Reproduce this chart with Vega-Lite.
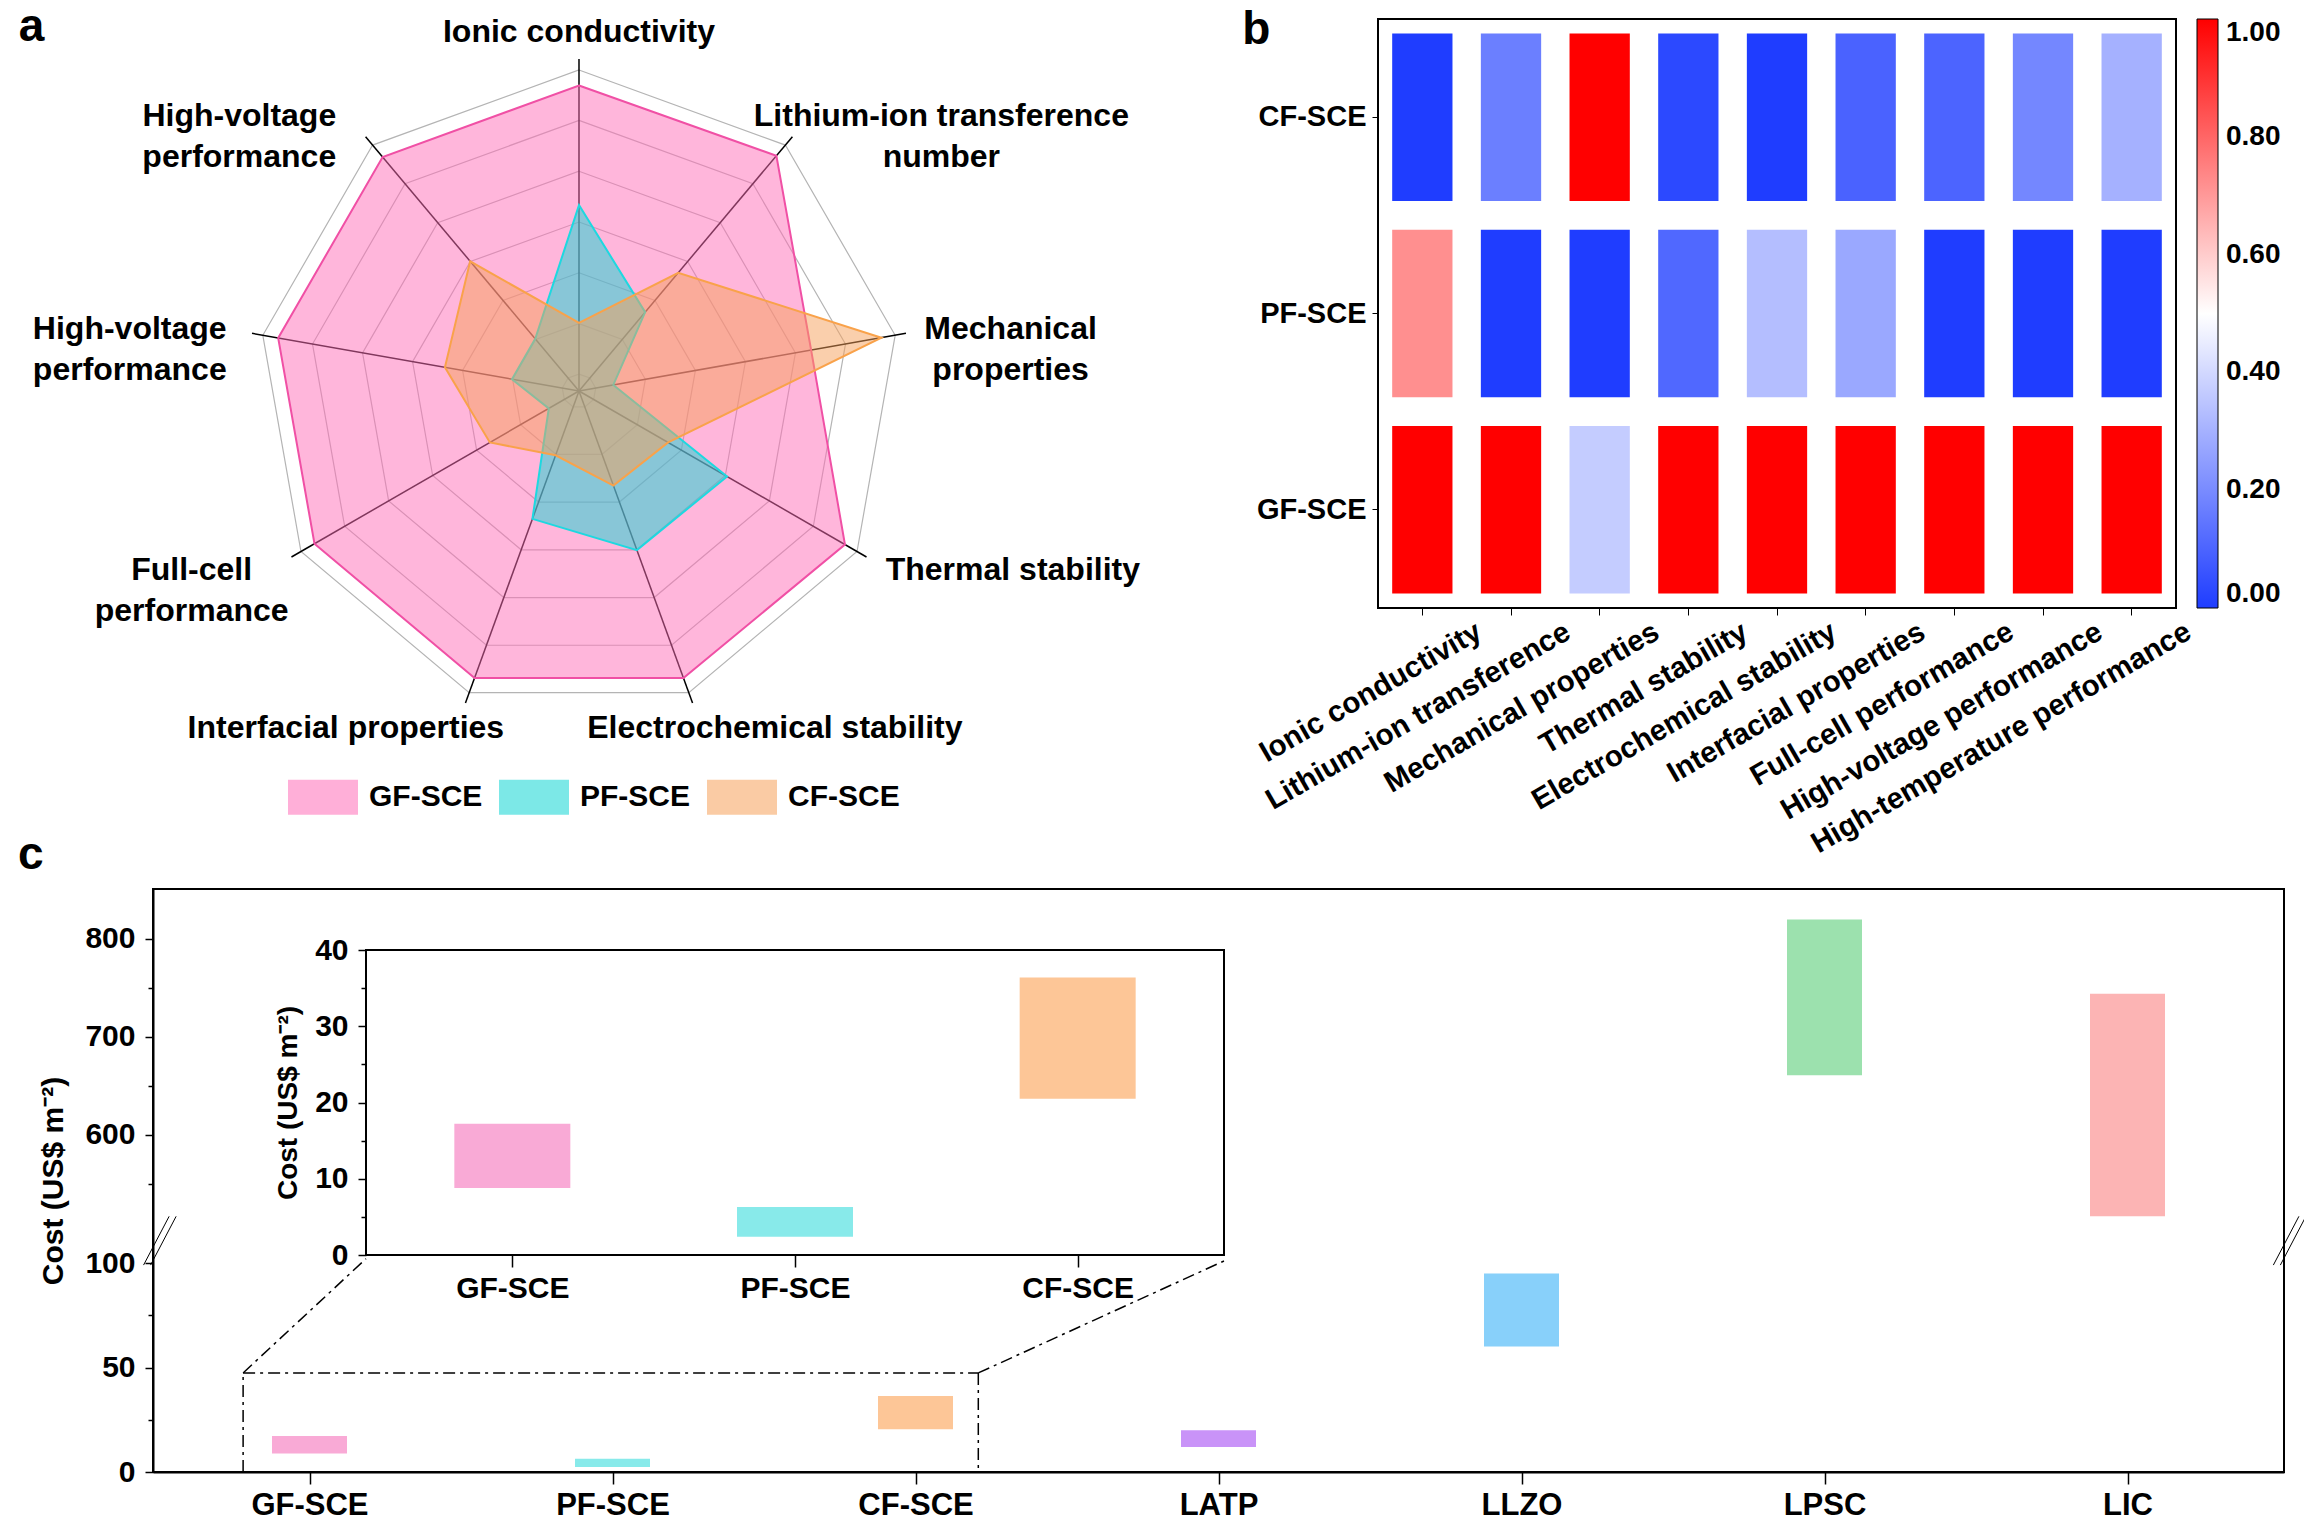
{
"$schema": "https://vega.github.io/schema/vega-lite/v6.json",
"padding": {"left": 16, "top": 4, "right": 0, "bottom": 0},
"background": "white",
"config": {
  "font": "Liberation Sans",
  "view": {"stroke": null},
  "title": {"fontSize": 46, "fontWeight": "bold", "anchor": "start", "frame": "bounds", "color": "black", "offset": 0},
  "axis": {"labelFontWeight": "bold", "labelColor": "black", "titleFontWeight": "bold", "titleColor": "black", "tickColor": "black", "domainColor": "black", "grid": false, "labelFont": "Liberation Sans", "titleFont": "Liberation Sans"},
  "legend": {"labelFontWeight": "bold", "labelColor": "black", "labelFont": "Liberation Sans"}
},
"datasets": {
  "radar": [
    {"series": "GF-SCE", "axis": 0, "value": 0.92},
    {"series": "GF-SCE", "axis": 1, "value": 0.925},
    {"series": "GF-SCE", "axis": 2, "value": 0.71},
    {"series": "GF-SCE", "axis": 3, "value": 0.925},
    {"series": "GF-SCE", "axis": 4, "value": 0.92},
    {"series": "GF-SCE", "axis": 5, "value": 0.92},
    {"series": "GF-SCE", "axis": 6, "value": 0.92},
    {"series": "GF-SCE", "axis": 7, "value": 0.92},
    {"series": "GF-SCE", "axis": 8, "value": 0.92},
    {"series": "PF-SCE", "axis": 0, "value": 0.56},
    {"series": "PF-SCE", "axis": 1, "value": 0.31},
    {"series": "PF-SCE", "axis": 2, "value": 0.105},
    {"series": "PF-SCE", "axis": 3, "value": 0.515},
    {"series": "PF-SCE", "axis": 4, "value": 0.51},
    {"series": "PF-SCE", "axis": 5, "value": 0.41},
    {"series": "PF-SCE", "axis": 6, "value": 0.105},
    {"series": "PF-SCE", "axis": 7, "value": 0.205},
    {"series": "PF-SCE", "axis": 8, "value": 0.205},
    {"series": "CF-SCE", "axis": 0, "value": 0.205},
    {"series": "CF-SCE", "axis": 1, "value": 0.465},
    {"series": "CF-SCE", "axis": 2, "value": 0.925},
    {"series": "CF-SCE", "axis": 3, "value": 0.31},
    {"series": "CF-SCE", "axis": 4, "value": 0.303},
    {"series": "CF-SCE", "axis": 5, "value": 0.206},
    {"series": "CF-SCE", "axis": 6, "value": 0.31},
    {"series": "CF-SCE", "axis": 7, "value": 0.41},
    {"series": "CF-SCE", "axis": 8, "value": 0.51}
  ],
  "axes": [
    {"axis": 0, "label": "Ionic conductivity"},
    {"axis": 1, "label": "Lithium-ion transference\nnumber"},
    {"axis": 2, "label": "Mechanical\nproperties"},
    {"axis": 3, "label": "Thermal stability"},
    {"axis": 4, "label": "Electrochemical stability"},
    {"axis": 5, "label": "Interfacial properties"},
    {"axis": 6, "label": "Full-cell\nperformance"},
    {"axis": 7, "label": "High-voltage\nperformance"},
    {"axis": 8, "label": "High-voltage\nperformance"}
  ],
  "rings": [
    {"r": 0.051, "axes": [0,1,2,3,4,5,6,7,8]},
    {"r": 0.203, "axes": [0,1,2,3,4,5,6,7,8]},
    {"r": 0.356, "axes": [0,1,2,3,4,5,6,7,8]},
    {"r": 0.509, "axes": [0,1,2,3,4,5,6,7,8]},
    {"r": 0.662, "axes": [0,1,2,3,4,5,6,7,8]},
    {"r": 0.815, "axes": [0,1,2,3,4,5,6,7,8]},
    {"r": 0.967, "axes": [0,1,2,3,4,5,6,7,8]}
  ],
  "heat": [
    {"sample": "CF-SCE", "property": "Ionic conductivity", "value": 0.0},
    {"sample": "CF-SCE", "property": "Lithium-ion transference", "value": 0.17},
    {"sample": "CF-SCE", "property": "Mechanical properties", "value": 1.0},
    {"sample": "CF-SCE", "property": "Thermal stability", "value": 0.03},
    {"sample": "CF-SCE", "property": "Electrochemical stability", "value": 0.0},
    {"sample": "CF-SCE", "property": "Interfacial properties", "value": 0.096},
    {"sample": "CF-SCE", "property": "Full-cell performance", "value": 0.1},
    {"sample": "CF-SCE", "property": "High-voltage performance", "value": 0.19},
    {"sample": "CF-SCE", "property": "High-temperature performance", "value": 0.3},
    {"sample": "PF-SCE", "property": "Ionic conductivity", "value": 0.72},
    {"sample": "PF-SCE", "property": "Lithium-ion transference", "value": 0.0},
    {"sample": "PF-SCE", "property": "Mechanical properties", "value": 0.0},
    {"sample": "PF-SCE", "property": "Thermal stability", "value": 0.11},
    {"sample": "PF-SCE", "property": "Electrochemical stability", "value": 0.333},
    {"sample": "PF-SCE", "property": "Interfacial properties", "value": 0.275},
    {"sample": "PF-SCE", "property": "Full-cell performance", "value": 0.0},
    {"sample": "PF-SCE", "property": "High-voltage performance", "value": 0.0},
    {"sample": "PF-SCE", "property": "High-temperature performance", "value": 0.0},
    {"sample": "GF-SCE", "property": "Ionic conductivity", "value": 1.0},
    {"sample": "GF-SCE", "property": "Lithium-ion transference", "value": 1.0},
    {"sample": "GF-SCE", "property": "Mechanical properties", "value": 0.368},
    {"sample": "GF-SCE", "property": "Thermal stability", "value": 1.0},
    {"sample": "GF-SCE", "property": "Electrochemical stability", "value": 1.0},
    {"sample": "GF-SCE", "property": "Interfacial properties", "value": 1.0},
    {"sample": "GF-SCE", "property": "Full-cell performance", "value": 1.0},
    {"sample": "GF-SCE", "property": "High-voltage performance", "value": 1.0},
    {"sample": "GF-SCE", "property": "High-temperature performance", "value": 1.0}
  ],
  "cost": [
    {"material": "GF-SCE", "low": 8.8, "high": 17.2},
    {"material": "PF-SCE", "low": 2.4, "high": 6.3},
    {"material": "CF-SCE", "low": 20.5, "high": 36.4},
    {"material": "LATP", "low": 12, "high": 20},
    {"material": "LLZO", "low": 60, "high": 95},
    {"material": "LPSC", "low": 661, "high": 820},
    {"material": "LIC", "low": 517, "high": 744}
  ],
  "zoom": [
    {"x": 0.296, "y": 0, "x2": 0.296, "y2": 47.4},
    {"x": 0.296, "y": 47.4, "x2": 2.711, "y2": 47.4},
    {"x": 2.711, "y": 47.4, "x2": 2.711, "y2": 0},
    {"x": 0.296, "y": 47.4, "x2": 0.6997, "y2": 157},
    {"x": 2.711, "y": 47.4, "x2": 3.518, "y2": 127}
  ],
  "breaks": [
    {"x": -0.031, "y": 99, "x2": 0.053, "y2": 517},
    {"x": -0.008, "y": 99, "x2": 0.076, "y2": 517},
    {"x": 6.965, "y": 99, "x2": 7.049, "y2": 517},
    {"x": 6.988, "y": 99, "x2": 7.072, "y2": 517}
  ]
},
"vconcat": [
  {
    "hconcat": [
      {
        "width": 999,
        "height": 818,
        "title": {"text": "a", "dy": 39, "dx": -14},
        "layer": [
          {
            "data": {"name": "rings"},
            "transform": [
              {"flatten": ["axes"], "as": ["axis"]},
              {"calculate": "datum.r*sin(datum.axis*PI/4.5)", "as": "px"},
              {"calculate": "datum.r*cos(datum.axis*PI/4.5)", "as": "py"}
            ],
            "mark": {"type": "line", "interpolate": "linear-closed", "stroke": "#B4B4B4", "strokeWidth": 1.2},
            "encoding": {
              "x": {"field": "px", "type": "quantitative", "scale": {"domain": [-1.2831, 1.7259], "nice": false, "zero": false}, "axis": null},
              "y": {"field": "py", "type": "quantitative", "scale": {"domain": [-1.3434, 1.1205], "nice": false, "zero": false}, "axis": null},
              "detail": {"field": "r", "type": "nominal"},
              "order": {"field": "axis", "type": "quantitative"}
            }
          },
          {
            "data": {"name": "axes"},
            "transform": [
              {"calculate": "0", "as": "cx"},
              {"calculate": "0", "as": "cy"},
              {"calculate": "sin(datum.axis*PI/4.5)", "as": "ex"},
              {"calculate": "cos(datum.axis*PI/4.5)", "as": "ey"}
            ],
            "mark": {"type": "rule", "color": "black", "strokeWidth": 1.5},
            "encoding": {
              "x": {"field": "cx", "type": "quantitative", "scale": {"domain": [-1.2831, 1.7259], "nice": false, "zero": false}, "axis": null},
              "y": {"field": "cy", "type": "quantitative", "scale": {"domain": [-1.3434, 1.1205], "nice": false, "zero": false}, "axis": null},
              "x2": {"field": "ex"},
              "y2": {"field": "ey"}
            }
          },
          {
            "data": {"name": "radar"},
            "transform": [
              {"calculate": "datum.value*sin(datum.axis*PI/4.5)", "as": "px"},
              {"calculate": "datum.value*cos(datum.axis*PI/4.5)", "as": "py"}
            ],
            "mark": {"type": "line", "interpolate": "linear-closed", "strokeWidth": 2, "fillOpacity": 0.5},
            "encoding": {
              "x": {"field": "px", "type": "quantitative", "scale": {"domain": [-1.2831, 1.7259], "nice": false, "zero": false}, "axis": null},
              "y": {"field": "py", "type": "quantitative", "scale": {"domain": [-1.3434, 1.1205], "nice": false, "zero": false}, "axis": null},
              "fill": {"field": "series", "type": "nominal",
                "scale": {"domain": ["GF-SCE", "PF-SCE", "CF-SCE"], "range": ["#FF6EB8", "#11D6D4", "#F5A059"]},
                "legend": {"orient": "none", "legendX": 135, "legendY": 743, "direction": "horizontal", "title": null, "symbolType": "M-1,-0.5H1V0.5H-1Z", "symbolSize": 4900, "symbolStrokeWidth": 0, "symbolOpacity": 0.55, "labelFontSize": 30, "labelOffset": 11, "columnPadding": 16}},
              "stroke": {"field": "series", "type": "nominal",
                "scale": {"domain": ["GF-SCE", "PF-SCE", "CF-SCE"], "range": ["#F050A5", "#1ED8E0", "#F9A24A"]},
                "legend": null},
              "order": {"field": "axis", "type": "quantitative"}
            }
          },
          {
            "data": {"name": "axes"},
            "transform": [
              {"calculate": "split(datum.label, '\\n')", "as": "lines"},
              {"calculate": "max(length(datum.lines[0]), length(peek(datum.lines)))", "as": "nmax"},
              {"calculate": "sin(datum.axis*PI/4.5)*(1.05+0.027*datum.nmax) - ((sin(datum.axis*PI/4.5) < -0.1 && abs(cos(datum.axis*PI/4.5)) > 0.7) ? 0.14 : 0)", "as": "lx"},
              {"calculate": "1.08*cos(datum.axis*PI/4.5)", "as": "ly"}
            ],
            "mark": {"type": "text", "fontSize": 32, "fontWeight": "bold", "lineBreak": "\n", "lineHeight": 41, "align": "center", "baseline": "middle", "color": "black"},
            "encoding": {
              "x": {"field": "lx", "type": "quantitative", "scale": {"domain": [-1.2831, 1.7259], "nice": false, "zero": false}, "axis": null},
              "y": {"field": "ly", "type": "quantitative", "scale": {"domain": [-1.3434, 1.1205], "nice": false, "zero": false}, "axis": null},
              "text": {"field": "label", "type": "nominal"}
            }
          }
        ]
      },
      {
        "width": 798,
        "height": 589,
        "title": {"text": "b", "dy": 39, "dx": -12},
        "view": {"stroke": "black", "strokeWidth": 2},
        "data": {"name": "heat"},
        "mark": {"type": "rect"},
        "encoding": {
          "x": {"field": "property", "type": "nominal",
            "sort": ["Ionic conductivity", "Lithium-ion transference", "Mechanical properties", "Thermal stability", "Electrochemical stability", "Interfacial properties", "Full-cell performance", "High-voltage performance", "High-temperature performance"],
            "scale": {"paddingInner": 0.32, "paddingOuter": 0.16},
            "axis": {"title": null, "labelAngle": -30, "labelAlign": "right", "labelBaseline": "top", "labelOffset": 50, "labelPadding": 2, "labelFontSize": 29.5, "tickSize": 7, "domain": false, "labelLimit": 1000}},
          "y": {"field": "sample", "type": "nominal", "sort": ["CF-SCE", "PF-SCE", "GF-SCE"],
            "scale": {"paddingInner": 0.147, "paddingOuter": 0.0735},
            "axis": {"title": null, "labelFontSize": 29, "tickSize": 6, "labelPadding": 6, "domain": false}},
          "color": {"field": "value", "type": "quantitative",
            "scale": {"domain": [0, 0.5, 1], "range": ["#1F3DFF", "#FFFFFF", "#FF0000"], "interpolate": "rgb"},
            "legend": {"title": null, "direction": "vertical", "gradientLength": 589, "gradientThickness": 21, "offset": 0, "padding": 0, "values": [0, 0.2, 0.4, 0.6, 0.8, 1], "format": ".2f", "labelFontSize": 28, "gradientStrokeColor": "black", "gradientStrokeWidth": 1, "labelOffset": 8, "labelOverlap": false}}
        }
      }
    ],
    "spacing": 89
  },
  {
    "width": 2131,
    "height": 583,
    "title": {"text": "c", "offset": 10, "dx": -21},
    "view": {"stroke": "black", "strokeWidth": 2},
    "layer": [
      {
        "data": {"name": "cost"},
        "transform": [{"calculate": "indexof(['GF-SCE','PF-SCE','CF-SCE','LATP','LLZO','LPSC','LIC'], datum.material) + 0.5", "as": "xpos"}],
        "mark": {"type": "bar", "width": 75},
        "encoding": {
          "x": {"field": "xpos", "type": "quantitative", "scale": {"domain": [0, 7], "nice": false, "zero": false},
            "axis": {"orient": "bottom", "values": [0.5, 1.5, 2.5, 3.5, 4.5, 5.5, 6.5], "labelExpr": "['GF-SCE','PF-SCE','CF-SCE','LATP','LLZO','LPSC','LIC'][floor(datum.value)]", "title": null, "tickSize": 12, "tickWidth": 1.5, "labelFontSize": 31, "labelPadding": 6, "domainWidth": 2}},
          "y": {"field": "low", "type": "quantitative", "scale": {"domain": [0, 100, 500, 851], "range": [583, 374, 344, 0], "nice": false, "zero": false},
            "axis": {"orient": "left", "values": [0, 50, 100, 600, 700, 800], "title": "Cost (US$ m⁻²)", "tickSize": 8, "tickWidth": 1.5, "labelFontSize": 30, "labelPadding": 10, "titleFontSize": 30, "titlePadding": 16, "domainWidth": 2}},
          "y2": {"field": "high"},
          "color": {"field": "material", "type": "nominal",
            "scale": {"domain": ["GF-SCE", "PF-SCE", "CF-SCE", "LATP", "LLZO", "LPSC", "LIC"], "range": ["#F9AAD6", "#88EAEA", "#FDC697", "#C993F8", "#88D0FA", "#9CE1AE", "#FCB4B4"]},
            "legend": null}
        }
      },
      {
        "data": {"name": "cost"},
        "transform": [{"calculate": "indexof(['GF-SCE','PF-SCE','CF-SCE','LATP','LLZO','LPSC','LIC'], datum.material) + 0.5", "as": "xpos"}],
        "mark": {"type": "bar", "width": 75, "opacity": 0},
        "encoding": {
          "x": {"field": "xpos", "type": "quantitative", "scale": {"domain": [0, 7], "nice": false, "zero": false}, "axis": null},
          "y": {"field": "low", "type": "quantitative", "scale": {"domain": [0, 100, 500, 851], "range": [583, 374, 344, 0], "nice": false, "zero": false},
            "axis": {"orient": "left", "values": [25, 75, 550, 650, 750], "labels": false, "domain": false, "title": null, "tickSize": 5, "tickWidth": 1.5}},
          "y2": {"field": "high"}
        }
      },
      {
        "data": {"name": "zoom"},
        "mark": {"type": "rule", "color": "black", "strokeWidth": 1.5, "strokeDash": [12, 5, 3, 5]},
        "encoding": {
          "x": {"field": "x", "type": "quantitative", "scale": {"domain": [0, 7], "nice": false, "zero": false}, "axis": null},
          "y": {"field": "y", "type": "quantitative", "scale": {"domain": [0, 100, 500, 851], "range": [583, 374, 344, 0], "nice": false, "zero": false}, "axis": null},
          "x2": {"field": "x2"},
          "y2": {"field": "y2"}
        }
      },
      {
        "data": {"name": "breaks"},
        "mark": {"type": "rule", "color": "black", "strokeWidth": 1},
        "encoding": {
          "x": {"field": "x", "type": "quantitative", "scale": {"domain": [0, 7], "nice": false, "zero": false}, "axis": null},
          "y": {"field": "y", "type": "quantitative", "scale": {"domain": [0, 100, 500, 851], "range": [583, 374, 344, 0], "nice": false, "zero": false}, "axis": null},
          "x2": {"field": "x2"},
          "y2": {"field": "y2"}
        }
      },
      {
        "data": {"name": "cost"},
        "transform": [
          {"filter": "datum.material == 'GF-SCE'"},
          {"calculate": "0", "as": "fx0"},
          {"calculate": "3", "as": "fx1"},
          {"calculate": "0", "as": "fy0"},
          {"calculate": "40", "as": "fy1"}
        ],
        "mark": {"type": "rect", "fill": "white", "stroke": "black", "strokeWidth": 2},
        "encoding": {
          "x": {"field": "fx0", "type": "quantitative", "scale": {"domain": [0, 3], "range": [213, 1071], "nice": false, "zero": false}, "axis": null},
          "x2": {"field": "fx1"},
          "y": {"field": "fy0", "type": "quantitative", "scale": {"domain": [0, 40], "range": [366, 61], "nice": false, "zero": false}, "axis": null},
          "y2": {"field": "fy1"}
        }
      },
      {
        "data": {"name": "cost"},
        "transform": [
          {"filter": "indexof(['GF-SCE','PF-SCE','CF-SCE'], datum.material) >= 0"},
          {"calculate": "indexof(['GF-SCE','PF-SCE','CF-SCE'], datum.material) + 0.5", "as": "xpos"}
        ],
        "mark": {"type": "bar", "width": 116},
        "encoding": {
          "x": {"field": "xpos", "type": "quantitative", "scale": {"domain": [0, 3], "range": [213, 1071], "nice": false, "zero": false},
            "axis": {"orient": "bottom", "offset": -217, "values": [0.5, 1.5, 2.5], "labelExpr": "['GF-SCE','PF-SCE','CF-SCE'][floor(datum.value)]", "title": null, "domain": false, "tickSize": 12, "tickWidth": 1.5, "labelFontSize": 30, "labelPadding": 6}},
          "y": {"field": "low", "type": "quantitative", "scale": {"domain": [0, 40], "range": [366, 61], "nice": false, "zero": false},
            "axis": {"orient": "left", "offset": -213, "values": [0, 10, 20, 30, 40], "title": "Cost (US$ m⁻²)", "domain": false, "tickSize": 8, "tickWidth": 1.5, "labelFontSize": 30, "labelPadding": 10, "titleFontSize": 28, "titlePadding": 12}},
          "y2": {"field": "high"},
          "color": {"field": "material", "type": "nominal",
            "scale": {"domain": ["GF-SCE", "PF-SCE", "CF-SCE", "LATP", "LLZO", "LPSC", "LIC"], "range": ["#F9AAD6", "#88EAEA", "#FDC697", "#C993F8", "#88D0FA", "#9CE1AE", "#FCB4B4"]},
            "legend": null}
        }
      },
      {
        "data": {"name": "cost"},
        "transform": [
          {"filter": "indexof(['GF-SCE','PF-SCE','CF-SCE'], datum.material) >= 0"},
          {"calculate": "indexof(['GF-SCE','PF-SCE','CF-SCE'], datum.material) + 0.5", "as": "xpos"}
        ],
        "mark": {"type": "bar", "width": 116, "opacity": 0},
        "encoding": {
          "x": {"field": "xpos", "type": "quantitative", "scale": {"domain": [0, 3], "range": [213, 1071], "nice": false, "zero": false}, "axis": null},
          "y": {"field": "low", "type": "quantitative", "scale": {"domain": [0, 40], "range": [366, 61], "nice": false, "zero": false},
            "axis": {"orient": "left", "offset": -213, "values": [5, 15, 25, 35], "labels": false, "domain": false, "title": null, "tickSize": 5, "tickWidth": 1.5}},
          "y2": {"field": "high"}
        }
      }
    ],
    "resolve": {"scale": {"x": "independent", "y": "independent"}, "axis": {"x": "independent", "y": "independent"}}
  }
],
"spacing": -29
}
